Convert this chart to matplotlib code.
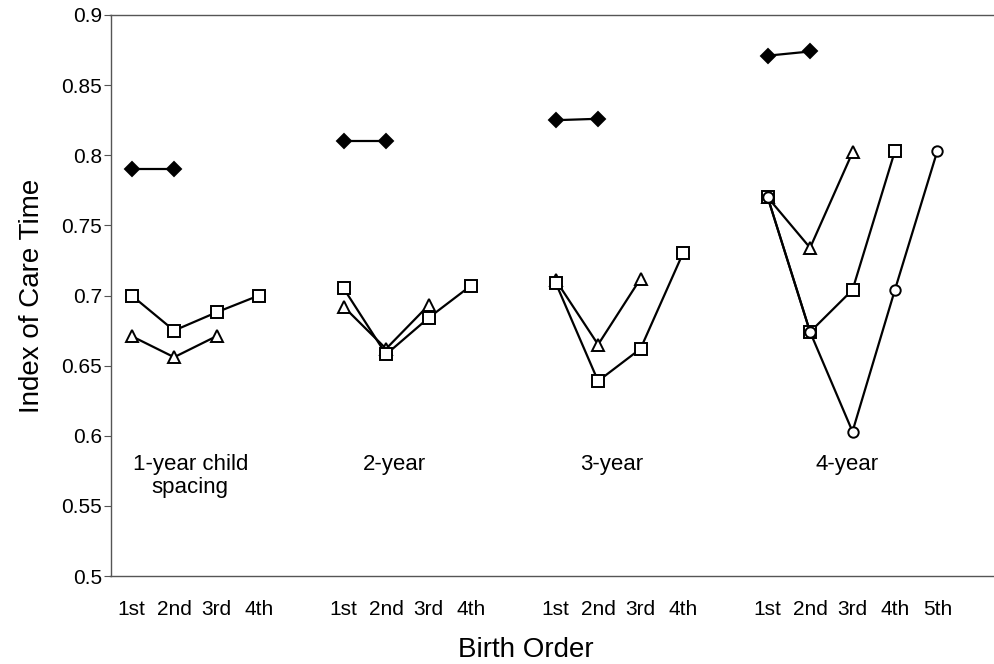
import numpy as np
import matplotlib
matplotlib.use('Agg')
import matplotlib.pyplot as plt

plt.rcParams['font.family'] = ['Liberation Sans', 'DejaVu Sans']

# category axis: four spacing groups, a blank slot between groups
x_labels = ['1st', '2nd', '3rd', '4th', '',
            '1st', '2nd', '3rd', '4th', '',
            '1st', '2nd', '3rd', '4th', '',
            '1st', '2nd', '3rd', '4th', '5th']
group_start = [0, 5, 10, 15]
group_names = ['1-year child\nspacing', '2-year', '3-year', '4-year']

# series values per group (diamond = 2 children, triangle = 3, square = 4, circle = 5)
diamond = [[0.790, 0.790], [0.810, 0.810], [0.825, 0.826], [0.871, 0.874]]
triangle = [[0.671, 0.656, 0.671], [0.692, 0.662, 0.693],
            [0.711, 0.665, 0.712], [0.770, 0.734, 0.802]]
square = [[0.700, 0.675, 0.688, 0.700], [0.705, 0.658, 0.684, 0.707],
          [0.709, 0.639, 0.662, 0.730], [0.770, 0.674, 0.704, 0.803]]
circle = [None, None, None, [0.770, 0.674, 0.603, 0.704, 0.803]]

fig = plt.figure(figsize=(9.94, 6.64), dpi=100)
ax = fig.add_axes([110.5 / 994, 88 / 664, 883.5 / 994, 561 / 664])

styles = [
    (diamond, dict(marker='D', markersize=7.5, markerfacecolor='black')),
    (triangle, dict(marker='^', markersize=8.5, markerfacecolor='white')),
    (square, dict(marker='s', markersize=8.5, markerfacecolor='white')),
    (circle, dict(marker='o', markersize=7.5, markerfacecolor='white')),
]

for series, st in styles:
    for g, vals in enumerate(series):
        if vals is None:
            continue
        xs = group_start[g] + np.arange(len(vals))
        ax.plot(xs, vals, color='black', linewidth=1.6,
                markeredgecolor='black', markeredgewidth=1.4, **st)

# group captions
caption_x = [1.38, 6.2, 11.33, 16.87]
for gx, name in zip(caption_x, group_names):
    ax.text(gx, 0.587, name, ha='center', va='top', fontsize=16,
            linespacing=1.1)

ax.set_xlim(-0.5, -0.5 + 883.5 / 42.4)
ax.set_ylim(0.5, 0.9)
ax.set_xticks(np.arange(len(x_labels)))
ax.set_xticklabels(x_labels, fontsize=15)
ax.tick_params(axis='x', length=0, pad=17)
ax.set_yticks([0.5, 0.55, 0.6, 0.65, 0.7, 0.75, 0.8, 0.85, 0.9])
ax.set_yticklabels(['0.5', '0.55', '0.6', '0.65', '0.7', '0.75', '0.8', '0.85', '0.9'],
                   fontsize=15)
ax.tick_params(axis='y', length=5, width=0.8, color='#555555', pad=1)

for side in ['left', 'top', 'bottom']:
    ax.spines[side].set_color('#555555')
    ax.spines[side].set_linewidth(1.0)
ax.spines['right'].set_visible(False)

ax.set_xlabel('Birth Order', fontsize=20)
ax.xaxis.set_label_coords(0.47, -0.108)
ax.set_ylabel('Index of Care Time', fontsize=20, labelpad=12)

fig.savefig('out.png', dpi=100)
